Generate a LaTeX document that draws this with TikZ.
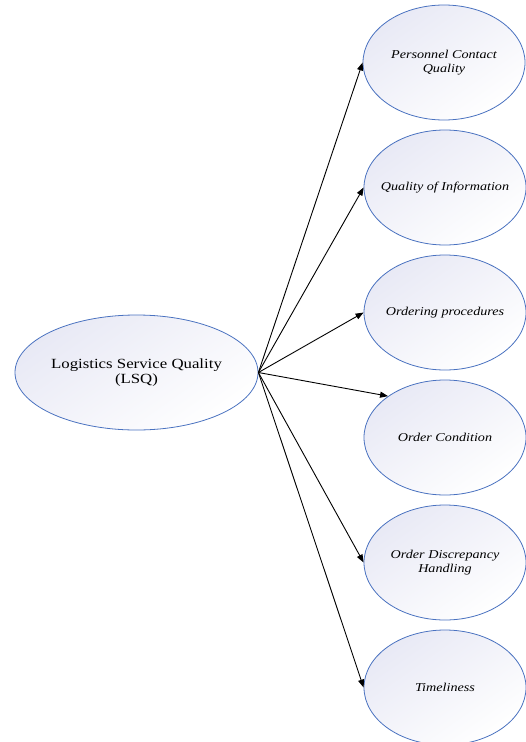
\documentclass[tikz,border=0pt]{standalone}
\usepackage{fontspec}
\setmainfont{Liberation Serif}
\newfontfamily\lsqfont[FakeStretch=1.2]{Liberation Serif}
\newfontfamily\dimfont[FakeStretch=1.18]{Liberation Serif}
\usetikzlibrary{shapes.geometric,arrows.meta}
\definecolor{edgeblue}{HTML}{4A72C0}
\definecolor{fillblue}{HTML}{E8E9F5}
\tikzset{
  bubble/.style={ellipse, draw=edgeblue, line width=0.8pt, inner sep=0pt,
    shading=axis, top color=fillblue, bottom color=white, shading angle=35},
  bubbletext/.style={align=center, inner sep=0pt},
  mainbubble/.style={bubble, minimum width=243pt, minimum height=115pt},
  maintext/.style={bubbletext, font=\lsqfont\fontsize{14}{15}\selectfont},
  dimbubble/.style={bubble, minimum width=162pt, minimum height=115pt},
  dimtext/.style={bubbletext, font=\dimfont\itshape\fontsize{12}{13.5}\selectfont},
  link/.style={-{Triangle[length=8pt,width=6pt]}, line width=0.9pt, black}
}
\begin{document}
\begin{tikzpicture}[x=1pt,y=-1pt]
\useasboundingbox (0,0) rectangle (526,742);
\node[mainbubble, label={[maintext]center:Logistics Service Quality\\(LSQ)}] (lsq) at (136.5,372.5) {};
\node[dimbubble, label={[dimtext]center:Personnel Contact\\Quality}] (d1) at (444,62.5) {};
\node[dimbubble, label={[dimtext]center:Quality of Information}] (d2) at (445,187.5) {};
\node[dimbubble, label={[dimtext]center:Ordering procedures}] (d3) at (445,312.5) {};
\node[dimbubble, label={[dimtext]center:Order Condition}] (d4) at (445,437.5) {};
\node[dimbubble, label={[dimtext]center:Order Discrepancy\\Handling}] (d5) at (445,562.5) {};
\node[dimbubble, label={[dimtext]center:Timeliness}] (d6) at (445,687.5) {};
\draw[link] (lsq.east) -- (d1.west);
\draw[link] (lsq.east) -- (d2.west);
\draw[link] (lsq.east) -- (d3.west);
\draw[link] (lsq.east) -- (d4.144);
\draw[link] (lsq.east) -- (d5.west);
\draw[link] (lsq.east) -- (d6.west);
\end{tikzpicture}
\end{document}
